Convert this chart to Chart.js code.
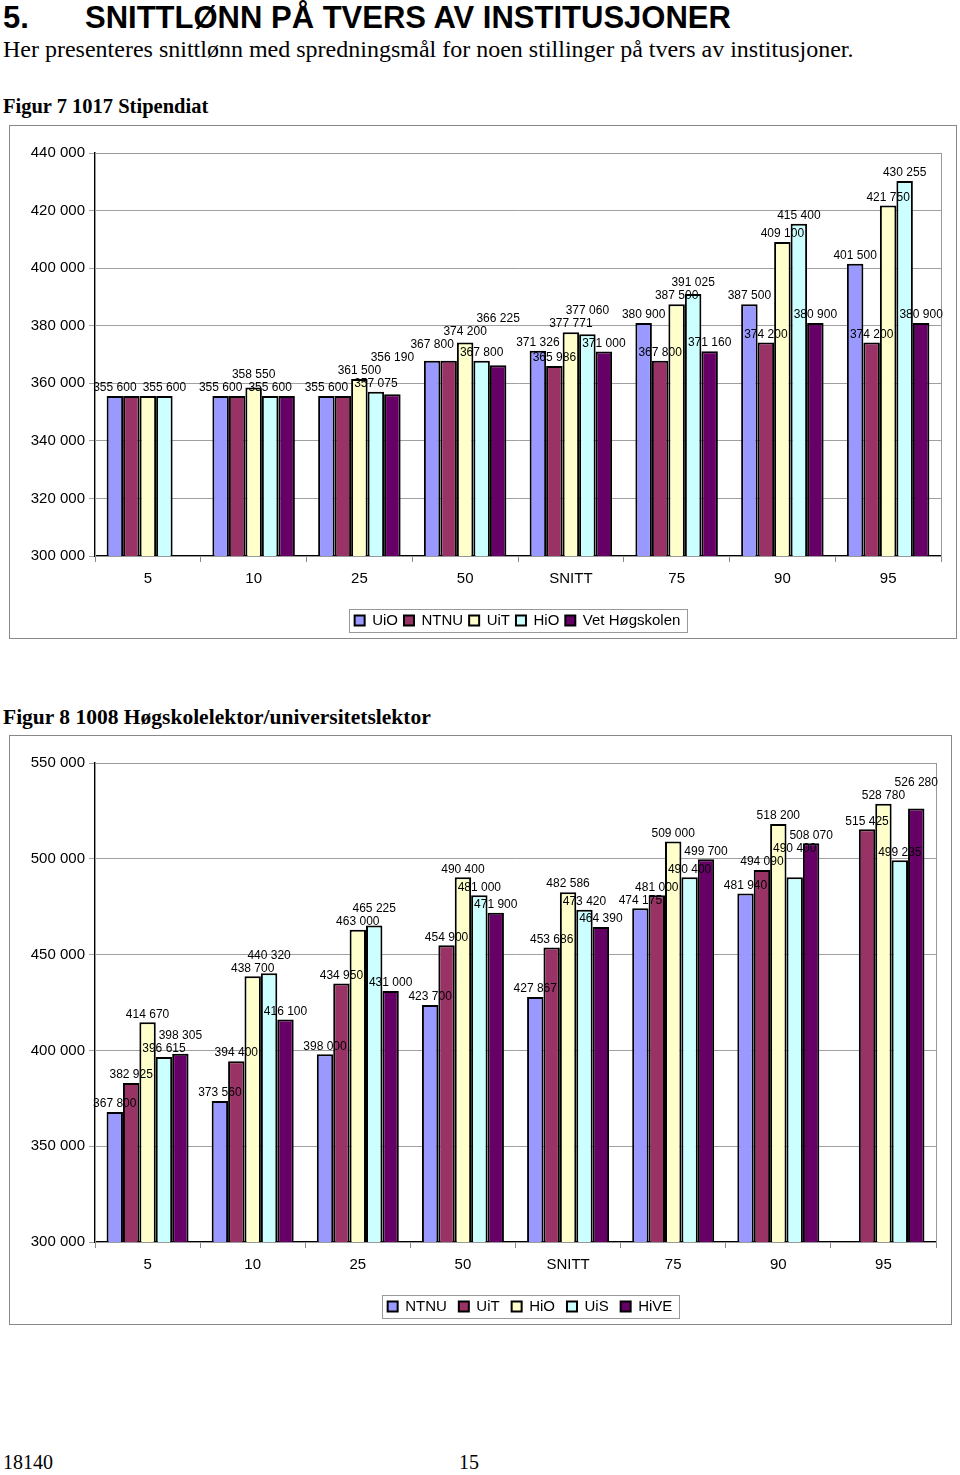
<!DOCTYPE html>
<html>
<head>
<meta charset="utf-8">
<script src="https://cdn.jsdelivr.net/npm/chart.js@4.4.1/dist/chart.umd.min.js"></script>
<style>
  body { margin: 0; background: #fff; width: 960px; height: 1475px; position: relative; overflow: hidden; }
  .txt { position: absolute; white-space: nowrap; color: #000; }
  .h1 { left: 3px; top: 0px; font: bold 31px "Liberation Sans", Arial, sans-serif; }
  .h1 span { position: absolute; left: 82px; }
  .sub { left: 3px; top: 36px; font: 24px "Liberation Serif", serif; }
  .cap { left: 3px; font: bold 20.5px "Liberation Serif", serif; }
  .foot { top: 1451px; font: 20px "Liberation Serif", serif; }
  .box { position: absolute; border: 1px solid #888; background: #fff; }
  .box canvas { display: block; }
</style>
</head>
<body>
<div class="txt h1">5.<span>SNITTLØNN PÅ TVERS AV INSTITUSJONER</span></div>
<div class="txt sub">Her presenteres snittlønn med spredningsmål for noen stillinger på tvers av institusjoner.</div>
<div class="txt cap" style="top:95px">Figur 7 1017 Stipendiat</div>
<div class="box" style="left:9px;top:125px;width:946px;height:512px"><canvas id="chart1"></canvas></div>
<div class="txt cap" style="top:705px;font-size:21.5px">Figur 8 1008 Høgskolelektor/universitetslektor</div>
<div class="box" style="left:9px;top:735px;width:941px;height:588px"><canvas id="chart2"></canvas></div>
<div class="txt foot" style="left:3px">18140</div>
<div class="txt foot" style="left:459px">15</div>
<script>
var categories = ["5", "10", "25", "50", "SNITT", "75", "90", "95"];

// Figur 7 1017 Stipendiat
var uio = [355600, 355600, 355600, 367800, 371326, 380900, 387500, 401500];
var ntnu7 = [355600, 355600, 355600, 367800, 365986, 367800, 374200, 374200];
var uit7 = [355600, 358550, 361500, 374200, 377771, 387500, 409100, 421750];
var hio7 = [355600, 355600, 357075, 367800, 377060, 391025, 415400, 430255];
var vet = [null, 355600, 356190, 366225, 371000, 371160, 380900, 380900];

// Figur 8 1008 Høgskolelektor/universitetslektor
var ntnu8 = [367800, 373560, 398000, 423700, 427867, 474175, 481940, null];
var uit8 = [382925, 394400, 434950, 454900, 453686, 481000, 494090, 515425];
var hio8 = [414670, 438700, 463000, 490400, 482586, 509000, 518200, 528780];
var uis = [396615, 440320, 465225, 481000, 473420, 490400, 490400, 499235];
var hive = [398305, 416100, 431000, 471900, 464390, 499700, 508070, 526280];

var colors = ["#9999ff", "#993366", "#ffffcc", "#ccffff", "#660066"];
var font = '"Liberation Sans", Arial, sans-serif';

function fmt(v) {
  return String(v).replace(/\B(?=(\d{3})+(?!\d))/g, " ");
}

function overlap(a, b) {
  return a.x1 < b.x2 && b.x1 < a.x2 && a.y1 < b.y2 && b.y1 < a.y2;
}

// value labels above bars, like the Excel original
var barLabels = {
  id: "barLabels",
  afterDatasetsDraw: function (chart) {
    var ctx = chart.ctx;
    ctx.save();
    ctx.font = "12px " + font;
    ctx.fillStyle = "#000";
    ctx.textAlign = "center";
    ctx.textBaseline = "bottom";
    var placed = [];
    chart.data.labels.forEach(function (c, j) {
      chart.data.datasets.forEach(function (ds, i) {
        var v = ds.data[j];
        if (v == null) return;
        var bar = chart.getDatasetMeta(i).data[j];
        var txt = fmt(v);
        var w = ctx.measureText(txt).width;
        var y = bar.y - 3;
        var box = { x1: bar.x - w / 2, x2: bar.x + w / 2, y1: y - 12, y2: y, txt: txt };
        for (var k = 0; k < 3; k++) {
          var hit = placed.find(function (p) { return overlap(p, box); });
          if (!hit) break;
          if (hit.txt === txt) return;
          box.y2 = hit.y1 - 1;
          box.y1 = box.y2 - 12;
        }
        placed.push(box);
        ctx.fillText(txt, bar.x, box.y2 + 1);
      });
    });
    ctx.restore();
  }
};

// plot frame, legend offset and a box around the legend
var frames = {
  id: "frames",
  afterLayout: function (chart, args, opts) {
    chart.legend.left += opts.legendShift || 0;
    chart.legend.right += opts.legendShift || 0;
  },
  beforeDatasetsDraw: function (chart) {
    var a = chart.chartArea, ctx = chart.ctx;
    ctx.save();
    ctx.strokeStyle = "#999";
    ctx.lineWidth = 1;
    ctx.strokeRect(a.left + 0.5, a.top + 0.5, a.right - a.left, a.bottom - a.top);
    ctx.restore();
  },
  afterDraw: function (chart) {
    var hb = chart.legend.legendHitBoxes, ctx = chart.ctx;
    if (!hb || !hb.length) return;
    var x1 = hb[0].left, x2 = hb[hb.length - 1].left + hb[hb.length - 1].width;
    var y1 = hb[0].top, y2 = hb[0].top + hb[0].height;
    ctx.save();
    ctx.strokeStyle = "#999";
    ctx.lineWidth = 1;
    ctx.strokeRect(Math.round(x1 - 6) + 0.5, Math.round(y1 - 4) + 0.5, Math.round(x2 - x1 + 12), Math.round(y2 - y1 + 8));
    ctx.restore();
  }
};

function makeChart(id, w, h, names, series, ymax, step, xHeight, shift, gap) {
  var ctx = document.getElementById(id).getContext("2d");
  ctx.canvas.width = w;
  ctx.canvas.height = h;
  return new Chart(ctx, {
    type: "bar",
    data: {
      labels: categories,
      datasets: names.map(function (n, i) {
        return {
          label: n,
          data: series[i],
          backgroundColor: colors[i],
          borderColor: "#000",
          borderWidth: 2,
          categoryPercentage: 0.78,
          barPercentage: 1
        };
      })
    },
    options: {
      responsive: false,
      animation: false,
      layout: { padding: { top: 27, right: 15, bottom: 0, left: 0 } },
      plugins: {
        legend: {
          position: "bottom",
          labels: { boxWidth: 10, boxHeight: 10, padding: gap, color: "#000", font: { family: font, size: 15 } }
        },
        tooltip: { enabled: false },
        frames: { legendShift: shift }
      },
      scales: {
        x: {
          grid: { drawOnChartArea: false, tickLength: 6, color: "#888" },
          border: { color: "#000", width: 1.5 },
          ticks: { color: "#000", padding: 8, font: { family: font, size: 15 } },
          afterFit: function (s) { s.height = xHeight; }
        },
        y: {
          min: 300000,
          max: ymax,
          grid: { color: "#a0a0a0", tickLength: 6 },
          border: { color: "#000", width: 1.5 },
          ticks: { stepSize: step, color: "#000", padding: 4, font: { family: font, size: 15 }, callback: function (v) { return fmt(v); } },
          afterFit: function (s) { s.width = 85; }
        }
      }
    },
    plugins: [frames, barLabels]
  });
}

makeChart("chart1", 946, 512, ["UiO", "NTNU", "UiT", "HiO", "Vet Høgskolen"],
  [uio, ntnu7, uit7, hio7, vet], 440000, 20000, 51, 42, 6);
makeChart("chart2", 941, 588, ["NTNU", "UiT", "HiO", "UiS", "HiVE"],
  [ntnu8, uit8, hio8, uis, hive], 550000, 50000, 45, 57, 12);
</script>
</body>
</html>
